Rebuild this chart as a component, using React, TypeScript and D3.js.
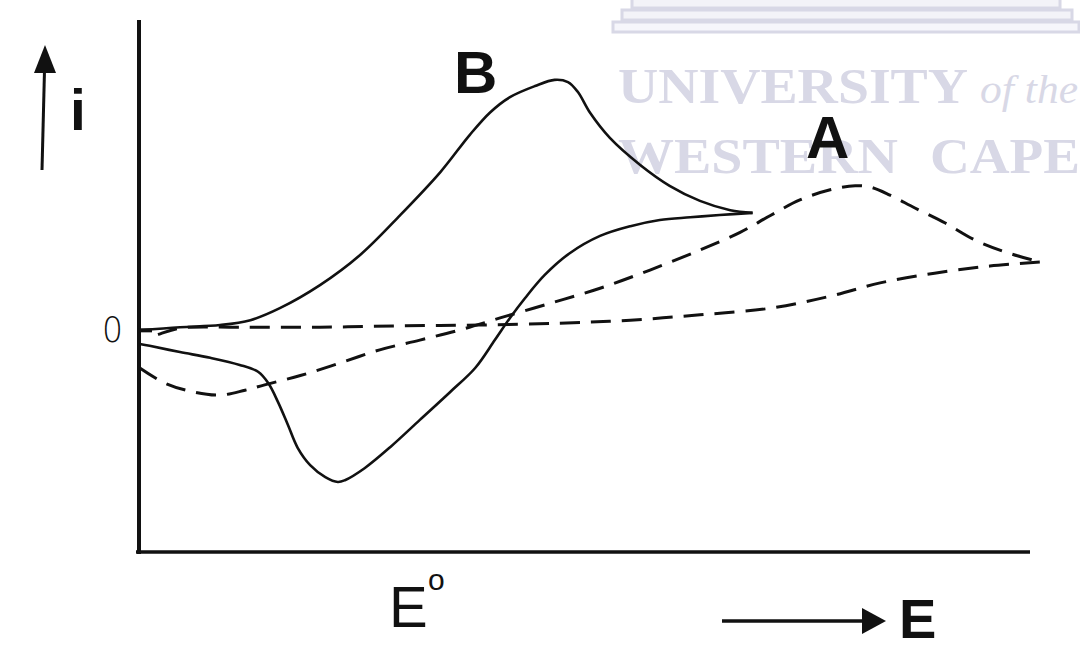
import React from "react";
import * as d3 from "d3";

// Curve B (solid, reversible) – forward scan
const bForwardE = [0.2, 4.7, 9.2, 12.6, 15.9, 20.4, 24.9, 29.4, 33.9, 37.2, 39.5, 41.7, 44.5, 46.7, 48.2, 49.3, 50.7, 52.9, 56.3, 59.6, 63.0, 66.4, 68.9];
const bForwardI = [0, 0.7, 1.2, 2.3, 5.0, 10.2, 17.0, 26.0, 35.7, 44.1, 49.2, 52.6, 55.1, 56.5, 56.0, 53.8, 49.0, 43.4, 37.3, 32.6, 29.2, 27.1, 26.5];
// Curve B – reverse scan
const bReverseE = [68.9, 65.2, 61.9, 58.5, 55.2, 51.8, 48.4, 45.6, 43.4, 41.7, 40.0, 37.8, 35.0, 31.6, 28.3, 25.4, 23.2, 22.4, 21.0, 19.3, 17.9, 16.8, 15.7, 14.6, 13.5, 11.4, 8.1, 4.7, 1.3, 0.2];
const bReverseI = [26.5, 26.0, 25.5, 24.9, 23.5, 21.3, 17.4, 12.5, 7.3, 2.8, -2.2, -8.5, -13.9, -20.2, -26.3, -31.1, -33.8, -34.2, -33.1, -30.4, -26.5, -21.3, -16.2, -11.9, -9.4, -7.8, -6.2, -4.9, -3.5, -3.1];
// Curve A (dashed, irreversible) – branch with peak
const aPeakE = [0.2, 3.0, 5.8, 9.2, 12.0, 14.2, 18.2, 22.6, 27.1, 31.6, 36.1, 40.6, 46.2, 51.8, 57.4, 63.0, 67.5, 70.9, 74.2, 77.6, 80.4, 82.1, 84.3, 87.1, 90.5, 93.8, 97.2, 101.1];
const aPeakI = [-8.5, -11.9, -13.7, -14.6, -13.5, -12.3, -10.2, -7.4, -4.4, -2.2, 0.1, 2.8, 6.1, 9.5, 13.6, 18.1, 22.1, 25.9, 29.4, 31.7, 32.6, 32.3, 30.5, 27.6, 24.2, 20.4, 17.7, 15.4];
// Curve A – flat return branch
const aFlatE = [101.1, 95.5, 89.3, 83.2, 77.6, 70.9, 63.0, 55.2, 47.3, 38.3, 29.4, 20.4, 11.4, 4.7, 2.5, 1.3];
const aFlatI = [15.4, 14.5, 12.9, 10.7, 7.7, 5.0, 3.5, 2.3, 1.6, 1.2, 1.0, 0.7, 0.7, 0.5, -0.8, -1.7];

const eDomain = [0, 100];
const iDomain = [-50, 70];
const zeroTick = 0;

const ink = "#111";
const wm = "#d8d8e6";

export default function App() {
  const W = 1080, H = 659;
  const x = d3.scaleLinear().domain(eDomain).range([138, 1030]);
  const y = d3.scaleLinear().domain(iDomain).range([552, 20]);
  const line = d3
    .line<[number, number]>()
    .x((d) => x(d[0]))
    .y((d) => y(d[1]))
    .curve(d3.curveCatmullRom.alpha(0.5));
  const zip = (a: number[], b: number[]) => a.map((v, k) => [v, b[k]] as [number, number]);

  return (
    <div style={{ position: "fixed", left: 0, top: 0 }}>
      <svg width={W} height={H} style={{ display: "block", background: "#fff" }}>
        {/* watermark */}
        <g>
          <rect x={632} y={-2} width={428} height={10} fill="#f3f3f8" stroke={wm} strokeWidth={3} />
          <rect x={622} y={10} width={450} height={10} fill="#f3f3f8" stroke={wm} strokeWidth={3} />
          <rect x={613} y={22} width={466} height={10} fill="#f6f6fb" stroke={wm} strokeWidth={3} />
          <text x={618} y={103} fontFamily="'Liberation Serif', serif" fontWeight="bold" fontSize={50} fill={wm} textLength={350} lengthAdjust="spacingAndGlyphs">UNIVERSITY</text>
          <text x={980} y={103} fontFamily="'Liberation Serif', serif" fontStyle="italic" fontSize={40} fill={wm} textLength={98} lengthAdjust="spacingAndGlyphs">of the</text>
          <text x={618} y={173} fontFamily="'Liberation Serif', serif" fontWeight="bold" fontSize={50} fill={wm} textLength={280} lengthAdjust="spacingAndGlyphs">WESTERN</text>
          <text x={930} y={173} fontFamily="'Liberation Serif', serif" fontWeight="bold" fontSize={50} fill={wm} textLength={150} lengthAdjust="spacingAndGlyphs">CAPE</text>
        </g>

        {/* axes */}
        <line x1={x(0) + 1} x2={x(0) + 1} y1={y(iDomain[1])} y2={y(iDomain[0]) + 2} stroke={ink} strokeWidth={4} />
        <line x1={x(0) - 2} x2={x(eDomain[1])} y1={y(iDomain[0])} y2={y(iDomain[0])} stroke={ink} strokeWidth={3.5} />
        <line x1={x(0)} x2={x(0) + 14} y1={y(zeroTick)} y2={y(zeroTick)} stroke={ink} strokeWidth={4} />
        <text x={102} y={342} fontFamily="'DejaVu Sans', sans-serif" fontWeight={200} fontSize={36} fill={ink} textLength={21} lengthAdjust="spacingAndGlyphs">0</text>

        {/* curves */}
        <path d={line(zip(bForwardE, bForwardI)) || ""} fill="none" stroke={ink} strokeWidth={2.6} strokeLinejoin="round" />
        <path d={line(zip(bReverseE, bReverseI)) || ""} fill="none" stroke={ink} strokeWidth={2.6} strokeLinejoin="round" />
        <path d={line(zip(aPeakE, aPeakI)) || ""} fill="none" stroke={ink} strokeWidth={3} strokeDasharray="20 11" />
        <path d={line(zip(aFlatE, aFlatI)) || ""} fill="none" stroke={ink} strokeWidth={3} strokeDasharray="20 11" />

        {/* labels */}
        <text x={454} y={93} fontFamily="'Liberation Sans', Arial, sans-serif" fontWeight="bold" fontSize={60} fill={ink}>B</text>
        <text x={806} y={158} fontFamily="'Liberation Sans', Arial, sans-serif" fontWeight="bold" fontSize={60} fill={ink}>A</text>

        {/* i arrow */}
        <line x1={42} y1={170} x2={44.5} y2={70} stroke={ink} strokeWidth={3} />
        <path d="M45,45 L34,73 L56,73 Z" fill={ink} />
        <text x={70} y={130} fontFamily="'Liberation Sans', Arial, sans-serif" fontWeight="bold" fontSize={57} fill={ink}>i</text>

        {/* E° */}
        <text x={389} y={627} fontFamily="'Liberation Sans', Arial, sans-serif" fontSize={58} fill={ink}>E</text>
        <text x={428} y={590} fontFamily="'Liberation Sans', Arial, sans-serif" fontSize={30} fill={ink}>o</text>

        {/* E arrow */}
        <line x1={722} y1={621} x2={865} y2={621} stroke={ink} strokeWidth={3.5} />
        <path d="M886,621 L862,608 L862,634 Z" fill={ink} />
        <text x={899} y={638} fontFamily="'Liberation Sans', Arial, sans-serif" fontWeight="bold" fontSize={56} fill={ink}>E</text>
      </svg>
    </div>
  );
}
